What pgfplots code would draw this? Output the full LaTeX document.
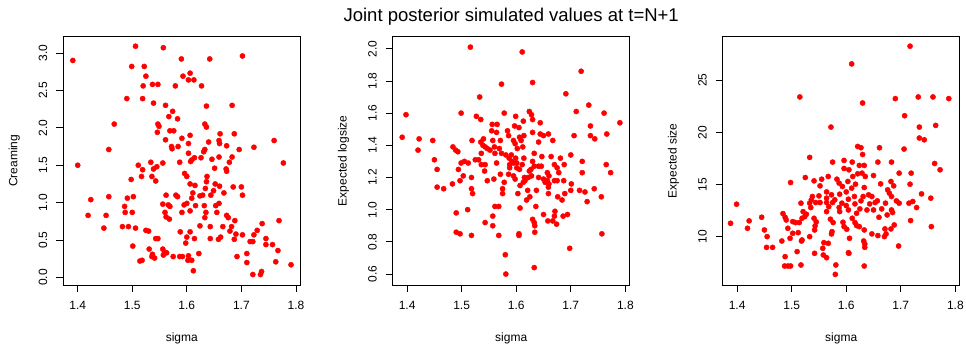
\documentclass[border=0pt]{standalone}
\usepackage{pgfplots}
\pgfplotsset{compat=1.18}
\usepackage{fontspec}
\setmainfont{Liberation Sans}
\begin{document}
\begin{tikzpicture}
\useasboundingbox (0,0) rectangle (966pt,347pt);
\pgfplotsset{
  rstyle/.style={
    scale only axis, width=237pt, height=248.5pt, anchor=south west,
    axis line style={line width=0.8pt},
    every tick/.style={line width=0.8pt, black},
    major tick length=7pt, tick align=outside,
    xtick pos=bottom, ytick pos=left,
    xmin=1.3736, xmax=1.808, xtick={1.4,1.5,1.6,1.7,1.8},
    /pgf/number format/assume math mode=true,
    xticklabel style={yshift=-6pt, /pgf/number format/.cd, fixed, fixed zerofill, precision=1},
    tick label style={font=\fontsize{12}{14}\selectfont},
    yticklabel style={xshift=-5.5pt, rotate=90, anchor=south},
    xlabel={sigma},
    every axis x label/.style={at={([yshift=-56.7pt]axis description cs:0.5,0)}, anchor=base, font=\fontsize{12}{14}\selectfont},
    every axis y label/.style={at={([xshift=-46pt]axis description cs:0,0.5)}, rotate=90, anchor=base, font=\fontsize{12}{14}\selectfont},
  },
  rmark/.style={only marks, mark=*, mark size=2.6pt, color=red, mark options={draw=none, fill=red}},
}
% ---------- Panel 1 ----------
\begin{axis}[rstyle, at={(63.3pt,62pt)}, ymin=-0.10, ymax=3.22,
  ytick={0,0.5,1,1.5,2,2.5,3}, ylabel={Creaming},
  yticklabel style={/pgf/number format/.cd, fixed, fixed zerofill, precision=1}]
\addplot[rmark] table {
x y
1.506 3.09
1.557 3.07
1.391 2.90
1.590 2.92
1.642 2.92
1.702 2.96
1.499 2.82
1.522 2.82
1.525 2.69
1.593 2.69
1.606 2.73
1.603 2.64
1.613 2.64
1.520 2.56
1.537 2.58
1.547 2.58
1.579 2.56
1.627 2.56
1.490 2.39
1.519 2.39
1.539 2.33
1.561 2.30
1.574 2.22
1.636 2.29
1.683 2.30
1.567 2.15
1.583 2.12
1.467 2.05
1.547 2.05
1.549 2.02
1.633 2.05
1.636 2.01
1.546 1.94
1.569 1.96
1.576 1.96
1.661 1.92
1.687 1.92
1.591 1.86
1.606 1.90
1.659 1.83
1.760 1.83
1.561 1.84
1.640 1.81
1.603 1.79
1.660 1.79
1.457 1.71
1.572 1.75
1.573 1.72
1.584 1.75
1.673 1.76
1.723 1.74
1.696 1.71
1.603 1.66
1.631 1.68
1.633 1.71
1.626 1.60
1.614 1.60
1.609 1.57
1.607 1.55
1.659 1.61
1.646 1.58
1.683 1.61
1.678 1.54
1.587 1.54
1.534 1.54
1.556 1.53
1.400 1.50
1.511 1.50
1.519 1.44
1.545 1.48
1.539 1.45
1.777 1.53
1.651 1.46
1.672 1.45
1.673 1.42
1.536 1.35
1.517 1.35
1.543 1.29
1.596 1.39
1.600 1.35
1.637 1.35
1.498 1.31
1.636 1.28
1.606 1.25
1.615 1.23
1.652 1.25
1.660 1.22
1.685 1.21
1.700 1.21
1.634 1.19
1.649 1.16
1.611 1.13
1.644 1.10
1.668 1.13
1.702 1.10
1.457 1.08
1.502 1.08
1.491 1.06
1.562 1.10
1.580 1.10
1.583 1.08
1.624 1.09
1.629 1.10
1.609 1.06
1.424 1.04
1.600 0.99
1.595 0.97
1.556 0.98
1.566 0.97
1.569 0.95
1.616 0.96
1.632 0.96
1.486 0.95
1.659 0.99
1.653 0.96
1.591 0.87
1.487 0.87
1.500 0.87
1.560 0.87
1.606 0.89
1.635 0.87
1.655 0.87
1.419 0.83
1.452 0.83
1.562 0.81
1.568 0.78
1.633 0.80
1.673 0.83
1.676 0.80
1.688 0.76
1.769 0.76
1.738 0.72
1.448 0.66
1.482 0.68
1.493 0.68
1.506 0.66
1.525 0.63
1.530 0.62
1.643 0.68
1.624 0.69
1.666 0.68
1.682 0.68
1.679 0.62
1.729 0.63
1.588 0.61
1.606 0.61
1.690 0.58
1.702 0.57
1.723 0.57
1.600 0.54
1.614 0.52
1.643 0.52
1.658 0.51
1.662 0.54
1.687 0.51
1.716 0.48
1.721 0.48
1.745 0.52
1.745 0.44
1.757 0.44
1.598 0.46
1.543 0.52
1.547 0.52
1.501 0.42
1.531 0.38
1.556 0.38
1.537 0.31
1.536 0.28
1.541 0.26
1.559 0.34
1.557 0.30
1.563 0.33
1.622 0.32
1.575 0.28
1.587 0.28
1.592 0.28
1.603 0.29
1.609 0.23
1.602 0.23
1.692 0.28
1.710 0.32
1.767 0.36
1.514 0.22
1.518 0.23
1.710 0.20
1.763 0.21
1.791 0.17
1.612 0.09
1.721 0.04
1.737 0.08
1.735 0.04
};
\end{axis}
% ---------- Panel 2 ----------
\begin{axis}[rstyle, at={(392.7pt,62pt)}, ymin=0.532, ymax=2.076,
  ytick={0.6,0.8,1.0,1.2,1.4,1.6,1.8,2.0}, ylabel={Expected logsize},
  yticklabel style={/pgf/number format/.cd, fixed, fixed zerofill, precision=1},
  title={Joint posterior simulated values at t=N+1},
  every axis title/.style={at={([yshift=15.3pt]axis description cs:0.5,1)}, anchor=base, font=\fontsize{18.5}{20}\selectfont}]
\addplot[rmark] table {
x y
1.516 2.01
1.611 1.98
1.719 1.86
1.573 1.78
1.630 1.79
1.691 1.72
1.533 1.70
1.733 1.65
1.398 1.59
1.499 1.60
1.578 1.60
1.624 1.61
1.628 1.59
1.710 1.61
1.761 1.60
1.527 1.58
1.535 1.56
1.599 1.58
1.630 1.56
1.613 1.55
1.644 1.54
1.790 1.54
1.556 1.53
1.565 1.53
1.597 1.52
1.736 1.52
1.605 1.51
1.555 1.49
1.584 1.49
1.630 1.48
1.644 1.47
1.659 1.47
1.766 1.47
1.564 1.48
1.586 1.46
1.606 1.45
1.614 1.46
1.650 1.46
1.706 1.46
1.736 1.46
1.744 1.44
1.391 1.45
1.422 1.44
1.447 1.43
1.519 1.43
1.540 1.44
1.535 1.42
1.557 1.43
1.571 1.43
1.595 1.43
1.609 1.43
1.641 1.42
1.667 1.43
1.598 1.41
1.602 1.38
1.612 1.39
1.539 1.40
1.543 1.39
1.547 1.38
1.552 1.37
1.560 1.39
1.569 1.38
1.573 1.35
1.484 1.39
1.489 1.37
1.493 1.36
1.420 1.37
1.536 1.35
1.561 1.35
1.581 1.34
1.591 1.34
1.633 1.35
1.647 1.33
1.664 1.33
1.700 1.34
1.450 1.31
1.525 1.31
1.531 1.31
1.505 1.30
1.499 1.29
1.512 1.29
1.587 1.32
1.599 1.32
1.614 1.32
1.681 1.32
1.592 1.30
1.595 1.29
1.601 1.29
1.630 1.30
1.721 1.30
1.536 1.28
1.543 1.28
1.564 1.29
1.588 1.28
1.611 1.28
1.670 1.28
1.688 1.28
1.765 1.28
1.601 1.26
1.588 1.26
1.633 1.27
1.641 1.27
1.646 1.27
1.675 1.26
1.494 1.25
1.606 1.25
1.627 1.25
1.455 1.25
1.542 1.24
1.624 1.24
1.721 1.23
1.773 1.23
1.678 1.23
1.657 1.23
1.571 1.22
1.595 1.21
1.615 1.20
1.628 1.21
1.622 1.20
1.503 1.21
1.518 1.20
1.586 1.22
1.641 1.20
1.660 1.21
1.616 1.18
1.559 1.19
1.598 1.19
1.650 1.19
1.657 1.18
1.547 1.18
1.613 1.17
1.497 1.18
1.653 1.17
1.670 1.18
1.675 1.18
1.687 1.18
1.578 1.17
1.660 1.16
1.701 1.16
1.483 1.16
1.607 1.15
1.659 1.14
1.455 1.14
1.467 1.13
1.621 1.12
1.637 1.12
1.518 1.13
1.575 1.13
1.700 1.12
1.716 1.12
1.726 1.11
1.743 1.13
1.520 1.10
1.575 1.10
1.603 1.10
1.659 1.10
1.689 1.10
1.676 1.08
1.684 1.06
1.625 1.08
1.619 1.06
1.730 1.05
1.756 1.08
1.561 1.02
1.568 1.02
1.607 1.01
1.636 1.02
1.511 1.00
1.671 0.99
1.650 0.97
1.490 0.98
1.557 0.96
1.694 0.97
1.686 0.96
1.670 0.96
1.630 0.94
1.658 0.93
1.667 0.93
1.543 0.92
1.633 0.92
1.674 0.91
1.634 0.90
1.557 0.90
1.490 0.86
1.497 0.85
1.634 0.86
1.518 0.84
1.568 0.84
1.605 0.85
1.605 0.84
1.757 0.85
1.698 0.76
1.580 0.72
1.633 0.64
1.581 0.60
};
\end{axis}
% ---------- Panel 3 ----------
\begin{axis}[rstyle, at={(722.7pt,62pt)}, ymin=5.36, ymax=29.2,
  ytick={10,15,20,25}, ylabel={Expected size}]
\addplot[rmark] table {
x y
1.717 28.27
1.610 26.57
1.515 23.40
1.630 22.82
1.690 23.24
1.732 23.40
1.759 23.40
1.788 23.24
1.707 21.60
1.572 20.51
1.734 20.51
1.764 20.67
1.734 19.46
1.743 19.29
1.706 18.40
1.621 18.65
1.627 18.53
1.661 18.53
1.630 17.88
1.533 17.60
1.575 17.15
1.596 17.31
1.611 17.15
1.658 17.15
1.683 17.15
1.762 17.02
1.772 16.41
1.596 16.54
1.605 16.41
1.624 16.83
1.633 16.83
1.629 16.09
1.621 16.03
1.697 16.09
1.719 16.09
1.525 15.67
1.567 15.77
1.541 15.35
1.555 15.51
1.583 15.51
1.498 15.19
1.587 15.13
1.603 15.29
1.612 15.77
1.635 15.77
1.650 15.86
1.617 15.03
1.663 15.06
1.682 15.29
1.717 15.03
1.687 14.87
1.552 14.87
1.593 14.81
1.610 14.65
1.633 14.71
1.676 14.49
1.679 14.17
1.564 14.29
1.600 14.29
1.738 14.10
1.550 13.91
1.538 13.85
1.573 14.01
1.588 14.07
1.615 13.85
1.631 13.85
1.641 14.01
1.647 13.85
1.683 13.85
1.755 13.69
1.536 13.53
1.564 13.69
1.579 13.53
1.604 13.59
1.627 13.43
1.657 13.43
1.692 13.43
1.697 13.21
1.722 13.37
1.399 13.11
1.517 13.21
1.533 13.21
1.544 13.27
1.552 13.27
1.564 13.27
1.575 13.27
1.592 13.21
1.600 12.98
1.616 13.14
1.643 13.14
1.653 13.27
1.672 13.21
1.715 13.21
1.535 12.79
1.568 12.88
1.587 12.79
1.625 12.66
1.650 12.56
1.729 12.79
1.588 12.40
1.604 12.56
1.638 12.56
1.665 12.66
1.683 12.56
1.685 12.31
1.619 12.24
1.564 12.40
1.521 12.40
1.527 12.15
1.484 12.21
1.488 11.86
1.445 11.86
1.519 11.76
1.524 11.92
1.541 11.76
1.675 12.08
1.660 11.86
1.718 11.54
1.611 11.76
1.571 11.67
1.490 11.60
1.422 11.51
1.545 11.41
1.502 11.44
1.507 11.35
1.514 11.35
1.576 11.35
1.616 11.35
1.388 11.28
1.594 11.38
1.619 11.06
1.688 11.12
1.543 11.03
1.596 10.96
1.756 10.96
1.419 10.80
1.493 10.80
1.624 10.96
1.633 10.64
1.671 10.74
1.682 10.74
1.450 10.64
1.542 10.64
1.574 10.48
1.601 10.71
1.512 10.38
1.502 10.32
1.573 10.26
1.647 10.26
1.658 10.10
1.673 10.26
1.670 10.00
1.455 10.00
1.533 10.00
1.606 9.84
1.497 9.84
1.519 9.68
1.518 9.58
1.482 9.58
1.632 9.58
1.559 9.42
1.567 9.36
1.634 9.29
1.696 9.10
1.454 8.97
1.465 8.97
1.634 8.97
1.557 8.88
1.510 8.56
1.604 8.46
1.605 8.40
1.542 8.40
1.558 8.24
1.564 7.98
1.488 8.08
1.581 7.28
1.517 7.28
1.487 7.18
1.493 7.18
1.498 7.18
1.633 7.18
1.580 6.38
};
\end{axis}
\end{tikzpicture}
\end{document}
